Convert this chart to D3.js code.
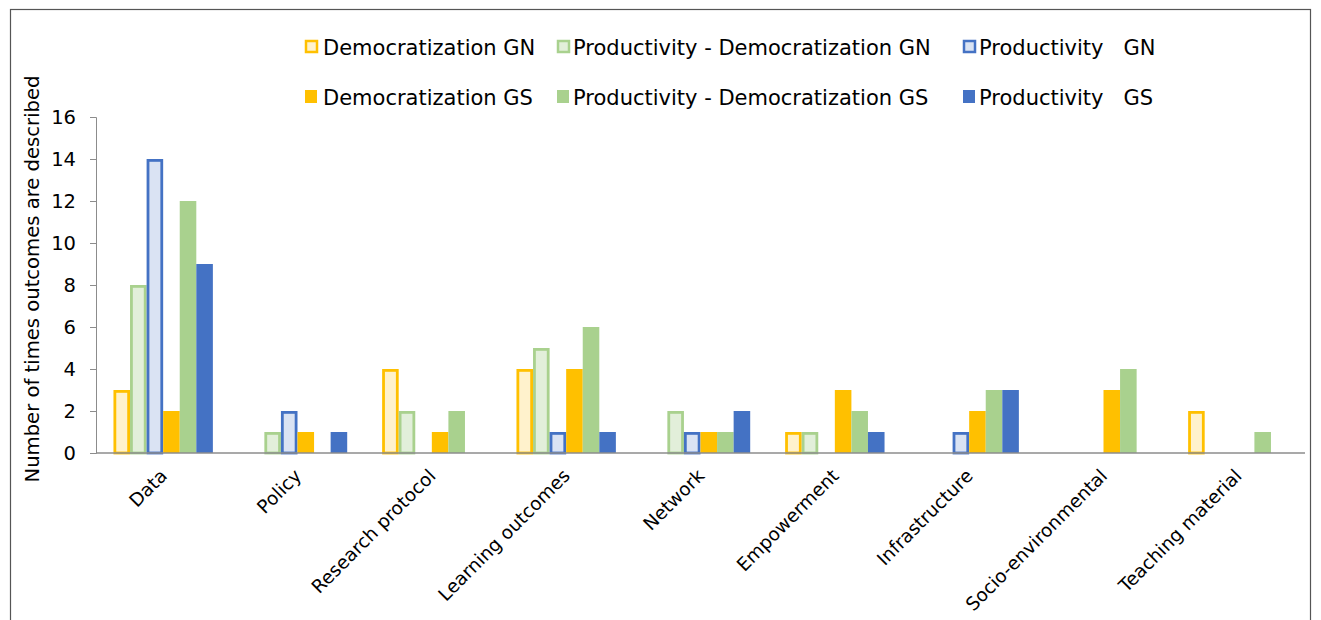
<!DOCTYPE html>
<html><head><meta charset="utf-8">
<script src="https://cdn.jsdelivr.net/npm/d3@7"></script>
<style>body{margin:0;background:#fff}svg{display:block}text{font-family:"DejaVu Sans",Verdana,sans-serif;fill:#000}</style>
</head><body><svg id="c" width="1321" height="620"></svg>
<script>
const categories=["Data","Policy","Research protocol","Learning outcomes","Network","Empowerment","Infrastructure","Socio-environmental","Teaching material"];
const seriesNames=["Democratization GN","Productivity - Democratization GN","Productivity   GN","Democratization GS","Productivity - Democratization GS","Productivity   GS"];
const demGN=[3,0,4,4,0,1,0,0,2];
const prodDemGN=[8,1,2,5,2,1,0,0,0];
const prodGN=[14,2,0,1,1,0,1,0,0];
const demGS=[2,1,1,4,1,3,2,3,0];
const prodDemGS=[12,0,2,6,1,2,3,4,1];
const prodGS=[9,1,0,1,2,1,3,0,0];
const yTicks=[0,2,4,6,8,10,12,14,16];
const yTitle="Number of times outcomes are described";

(function(){
const seriesVals=[demGN,prodDemGN,prodGN,demGS,prodDemGS,prodGS];
const styles=[
 {fill:"#FFF2CC",stroke:"#FFC000",outline:true},
 {fill:"#E2EFDA",stroke:"#A9D18E",outline:true},
 {fill:"#DAE3F3",stroke:"#4472C4",outline:true},
 {fill:"#FFC000",stroke:null,outline:false},
 {fill:"#A9D18E",stroke:null,outline:false},
 {fill:"#4472C4",stroke:null,outline:false}];

const svg=d3.select("#c");
svg.append("rect").attr("x",10.5).attr("y",9.5).attr("width",1300).attr("height",640).attr("fill","none").attr("stroke","#555").attr("stroke-width",1.2);

const mL=96,mR=1305,mT=117,mB=453;
const x=d3.scaleBand().domain(categories).range([mL,mR]).paddingInner(0.26).paddingOuter(0.13);
const xs=d3.scaleBand().domain(d3.range(6)).range([0,x.bandwidth()]);
const y=d3.scaleLinear().domain([0,16]).range([mB,mT]);

const ya=svg.append("g").attr("transform",`translate(${mL},0)`).call(d3.axisLeft(y).tickValues(yTicks).tickSize(6).tickPadding(14));
ya.select(".domain").attr("stroke","#8c8c8c");
ya.selectAll(".tick line").attr("stroke","#8c8c8c");
ya.selectAll(".tick text").attr("font-size",19.5).attr("font-family","DejaVu Sans").attr("fill","#000");

seriesVals.forEach((vals,si)=>{
  const st=styles[si];
  const g=svg.append("g");
  g.selectAll("rect").data(vals.map((v,i)=>({v,c:categories[i]})).filter(d=>d.v>0)).join("rect")
   .attr("x",d=>x(d.c)+xs(si)+(st.outline?1.4:0))
   .attr("y",d=>y(d.v)+(st.outline?1.4:0))
   .attr("width",xs.bandwidth()-(st.outline?2.8:0))
   .attr("height",d=>mB-y(d.v)-(st.outline?1.4:0))
   .attr("fill",st.fill)
   .attr("stroke",st.outline?st.stroke:"none")
   .attr("stroke-width",st.outline?2.8:0);
});

const xa=svg.append("g").attr("transform",`translate(0,${mB})`).call(d3.axisBottom(x).tickSize(0).tickSizeOuter(0));
xa.select(".domain").attr("stroke","#8c8c8c").attr("stroke-width",1.5).attr("d",`M${mL},0H${mR}`);
xa.selectAll(".tick text").attr("font-size",18.5).attr("font-family","DejaVu Sans").attr("fill","#000")
  .attr("text-anchor","end").attr("dy","0").attr("y",0)
  .attr("transform","translate(5,24) rotate(-45)");

svg.append("text").attr("transform",`translate(39,279) rotate(-90)`).attr("text-anchor","middle")
 .attr("font-size",19.6).text(yTitle);

const legX=[305,557,963],legY=[47,97];
seriesNames.forEach((n,i)=>{
  const st=styles[i];
  const lx=legX[i%3],ly=legY[Math.floor(i/3)];
  const g=svg.append("g").attr("transform",`translate(${lx},${ly})`);
  if(st.outline){
    g.append("rect").attr("x",1).attr("y",-6).attr("width",11).attr("height",11).attr("fill",st.fill).attr("stroke",st.stroke).attr("stroke-width",2.5);
  }else{
    g.append("rect").attr("x",0).attr("y",-7).attr("width",12).attr("height",13).attr("fill",st.fill);
  }
  g.append("text").attr("x",i%3===0?18:16).attr("y",7.5).attr("font-size",21).text(n.replace(/ /g,"\u00A0"));
});
})();
</script></body></html>
